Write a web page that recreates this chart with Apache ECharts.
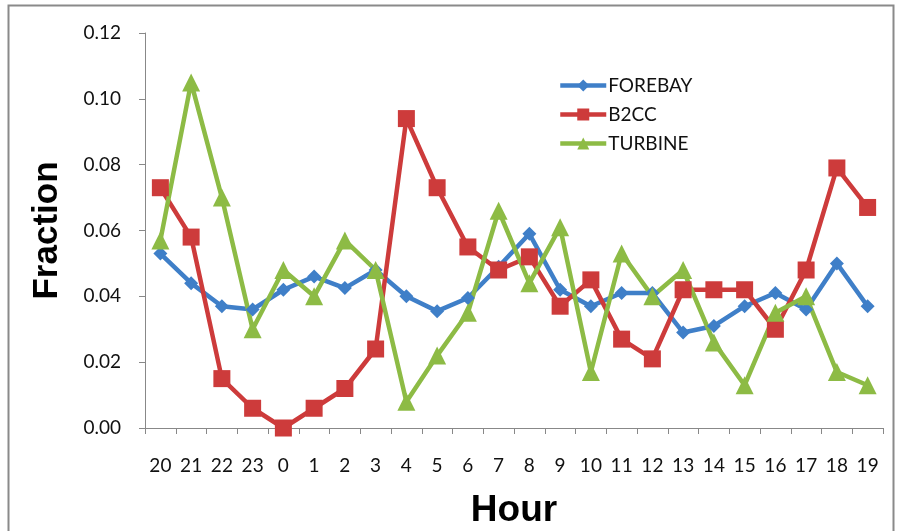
<!DOCTYPE html>
<html><head><meta charset="utf-8">
<script src="https://cdn.jsdelivr.net/npm/echarts@6/dist/echarts.min.js"></script>
<style>html,body{margin:0;padding:0;background:#fff}#c{width:898px;height:531px}</style>
</head><body><div id="c"></div>
<script>
const hours = ['20','21','22','23','0','1','2','3','4','5','6','7','8','9','10','11','12','13','14','15','16','17','18','19'];
const forebay = [0.053,0.044,0.037,0.036,0.042,0.046,0.0425,0.048,0.040,0.0355,0.0395,0.049,0.059,0.042,0.037,0.041,0.041,0.029,0.031,0.037,0.041,0.036,0.050,0.037];
const b2cc = [0.073,0.058,0.015,0.006,0.000,0.006,0.012,0.024,0.094,0.073,0.055,0.048,0.052,0.037,0.045,0.027,0.021,0.042,0.042,0.042,0.030,0.048,0.079,0.067];
const turbine = [0.057,0.105,0.070,0.030,0.048,0.040,0.057,0.048,0.008,0.022,0.035,0.066,0.044,0.061,0.017,0.053,0.040,0.048,0.026,0.013,0.035,0.040,0.017,0.013];
const yTicks = [0,0.02,0.04,0.06,0.08,0.10,0.12];

const chart = echarts.init(document.getElementById('c'), null, {renderer:'canvas'});
const lblFont = 'Lato, "Open Sans", sans-serif';
const mk = (name, data, color, symbol, size) => ({
  name, type:'line', data, symbol, symbolSize:size,
  lineStyle:{color, width:4.5}, itemStyle:{color}, z: 2
});
chart.setOption({
  animation:false,
  backgroundColor:'#fff',
  graphic:[{type:'rect', shape:{x:8.5,y:5.5,width:885,height:540}, style:{fill:null, stroke:'#8a8a8a', lineWidth:2}, z:-1}],
  grid:{left:145, right:15, top:33, bottom:103, containLabel:false, outerBoundsMode:'none'},
  legend:{
    orient:'vertical', left:553, top:71, itemWidth:46, itemHeight:15, itemGap:10,
    lineStyle:{width:4.5},
    textStyle:{fontFamily:lblFont, fontSize:19, color:'#111', padding:[0,0,0,-3]},
    data:['FOREBAY','B2CC','TURBINE']
  },
  xAxis:{
    type:'category', data:hours, boundaryGap:true,
    name:'Hour', nameLocation:'middle', nameGap:64,
    nameTextStyle:{fontFamily:'Arial, "Liberation Sans", sans-serif', fontWeight:'bold', fontSize:37, color:'#000'},
    axisLine:{lineStyle:{color:'#888', width:1}},
    axisTick:{show:true, alignWithLabel:false, length:6, lineStyle:{color:'#888'}},
    axisLabel:{fontFamily:lblFont, fontSize:19, color:'#111', margin:28, interval:0},
    splitLine:{show:false}
  },
  yAxis:{
    type:'value', min:0, max:0.12, interval:0.02,
    name:'Fraction', nameLocation:'middle', nameGap:80, nameRotate:90,
    nameTextStyle:{fontFamily:'Arial, "Liberation Sans", sans-serif', fontWeight:'bold', fontSize:35, color:'#000'},
    axisLine:{show:true, lineStyle:{color:'#888', width:1}},
    axisTick:{show:true, length:6, lineStyle:{color:'#888'}},
    axisLabel:{fontFamily:lblFont, fontSize:19, color:'#111', margin:24, formatter:v=>v.toFixed(2)},
    splitLine:{show:false}
  },
  series:[
    mk('FOREBAY', forebay, '#3f7fc8', 'diamond', 14),
    mk('B2CC', b2cc, '#cd3b3b', 'rect', 17),
    mk('TURBINE', turbine, '#8dbb45', 'triangle', 18)
  ]
});
</script></body></html>
